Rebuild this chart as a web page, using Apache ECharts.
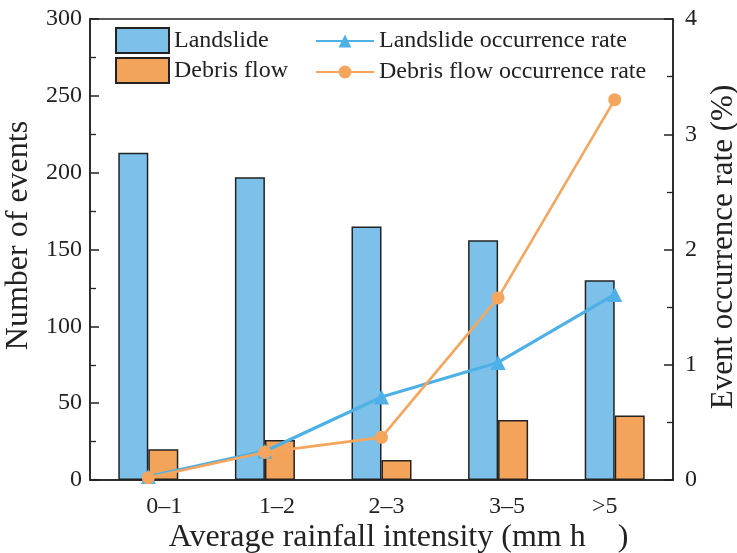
<!DOCTYPE html>
<html><head><meta charset="utf-8">
<script src="https://cdn.jsdelivr.net/npm/echarts@6/dist/echarts.min.js"></script>
<style>html,body{margin:0;padding:0;background:#fff}#c{width:737px;height:553px}</style>
</head><body><div id="c"></div>
<script>
const categories = ['0–1', '1–2', '2–3', '3–5', '>5'];
const landslideCounts = [213, 197, 165, 156, 130];
const debrisCounts = [20, 26, 13, 39, 42];
const landslideRate = [0.03, 0.25, 0.72, 1.02, 1.61];
const debrisRate = [0.02, 0.24, 0.37, 1.58, 3.30];
const leftTicks = [0, 50, 100, 150, 200, 250, 300];
const rightTicks = [0, 1, 2, 3, 4];

// layout-only: horizontal nudge of each category label (px), as in the original figure
const labelNudge = [16, 12, 5, 9, -10];

const FONT = '"Liberation Serif", "DejaVu Serif", serif';
const blueFill = '#7DC0EA', blueLine = '#4DB0E6';
const orangeFill = '#F4A45A', orangeLine = '#F5A55C';
const axisCol = '#222';

const catData = categories.map((c, i) => {
  const d = labelNudge[i];
  return { value: c, textStyle: { padding: d >= 0 ? [0, 0, 0, 2 * d] : [0, -2 * d, 0, 0] } };
});

const chart = echarts.init(document.getElementById('c'));
chart.setOption({
  backgroundColor: '#fff',
  textStyle: { fontFamily: FONT, color: '#222' },
  grid: { left: 90, right: 64, top: 19, bottom: 73, show: true, borderColor: axisCol, borderWidth: 1.5,
          containLabel: false, outerBoundsMode: 'none' },
  legend: [
    { data: ['Landslide', 'Debris flow'], orient: 'vertical', left: 110, top: 22, itemWidth: 53, itemHeight: 25, itemGap: 3,
      icon: 'rect', textStyle: { fontFamily: FONT, fontSize: 24, color: '#222' } },
    { data: ['Landslide occurrence rate', 'Debris flow occurrence rate'], orient: 'vertical', left: 310, top: 24, itemWidth: 58, itemHeight: 16, itemGap: 7,
      textStyle: { fontFamily: FONT, fontSize: 24, color: '#222' } }
  ],
  xAxis: {
    type: 'category', data: catData,
    name: 'Average rainfall intensity (mm h    )', nameLocation: 'middle', nameGap: 42, nameMoveOverlap: false,
    nameTextStyle: { fontFamily: FONT, fontSize: 32, color: '#222', padding: [0, 0, 0, 34] },
    axisLine: { lineStyle: { color: axisCol, width: 1.5 } },
    axisTick: { show: false },
    axisLabel: { fontFamily: FONT, fontSize: 24, color: '#222', margin: 15 }
  },
  yAxis: [
    { type: 'value', min: leftTicks[0], max: leftTicks[leftTicks.length - 1], interval: 50,
      name: 'Number of events', nameLocation: 'middle', nameGap: 55, nameRotate: 90,
      nameTextStyle: { fontFamily: FONT, fontSize: 32, color: '#222', padding: [0, 0, 0, 28] },
      axisLine: { show: true, lineStyle: { color: axisCol, width: 1.5 } },
      axisTick: { show: true, inside: true, length: 9, lineStyle: { color: axisCol, width: 1.5 } },
      minorTick: { show: true, splitNumber: 2, length: 6, lineStyle: { color: axisCol, width: 1.3 } },
      splitLine: { show: false },
      axisLabel: { fontFamily: FONT, fontSize: 24, color: '#222', margin: 8 } },
    { type: 'value', min: rightTicks[0], max: rightTicks[rightTicks.length - 1], interval: 1,
      name: 'Event occurrence rate (%)', nameLocation: 'middle', nameGap: 35, nameRotate: 90,
      nameTextStyle: { fontFamily: FONT, fontSize: 31, color: '#222', padding: [0, 0, 0, 5] },
      axisLine: { show: true, lineStyle: { color: axisCol, width: 1.5 } },
      axisTick: { show: true, inside: true, length: 9, lineStyle: { color: axisCol, width: 1.5 } },
      minorTick: { show: true, splitNumber: 2, length: 6, lineStyle: { color: axisCol, width: 1.3 } },
      splitLine: { show: false },
      axisLabel: { fontFamily: FONT, fontSize: 24, color: '#222', margin: 12 } }
  ],
  series: [
    { name: 'Landslide', type: 'bar', data: landslideCounts, barWidth: 30, barGap: '0%',
      itemStyle: { color: blueFill, borderColor: '#222', borderWidth: 1.5 } },
    { name: 'Debris flow', type: 'bar', data: debrisCounts, barWidth: 30, barGap: '0%',
      itemStyle: { color: orangeFill, borderColor: '#222', borderWidth: 1.5 } },
    { name: 'Landslide occurrence rate', type: 'line', yAxisIndex: 1, data: landslideRate,
      symbol: 'triangle', symbolSize: 15, lineStyle: { color: blueLine, width: 3.2 },
      itemStyle: { color: blueLine } },
    { name: 'Debris flow occurrence rate', type: 'line', yAxisIndex: 1, data: debrisRate,
      symbol: 'circle', symbolSize: 13, lineStyle: { color: orangeLine, width: 2.6 },
      itemStyle: { color: orangeLine } }
  ]
});
</script></body></html>
